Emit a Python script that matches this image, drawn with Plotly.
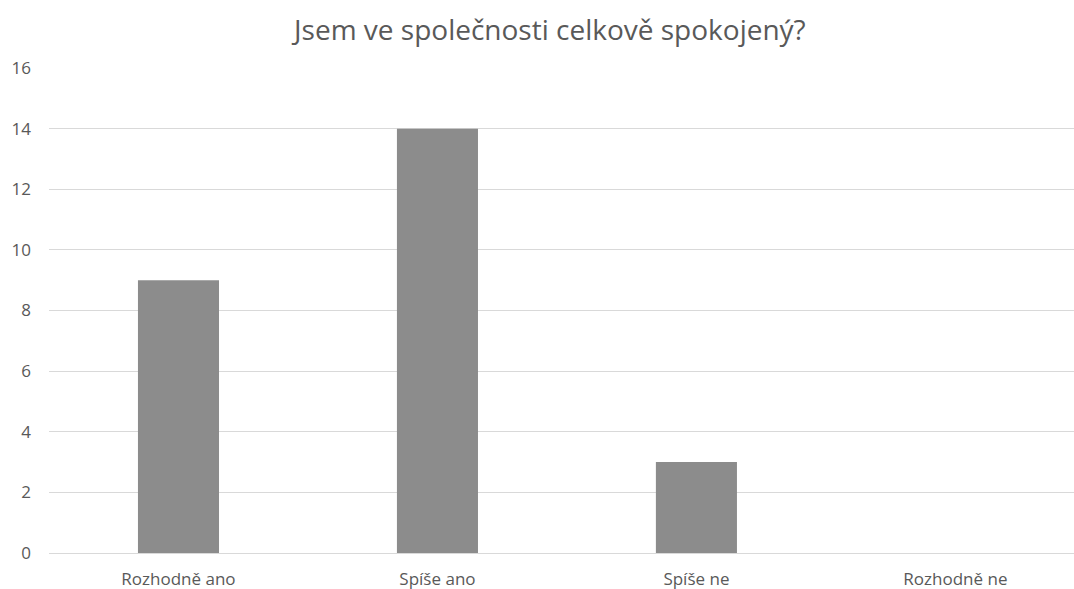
import plotly.graph_objects as go

categories = ["Rozhodně ano", "Spíše ano", "Spíše ne", "Rozhodně ne"]
counts = [9, 14, 3, 0]
y_ticks = [0, 2, 4, 6, 8, 10, 12, 14, 16]

text_color = "#595959"
font_family = "Open Sans, Noto Sans, sans-serif"

fig = go.Figure(
    go.Bar(
        x=categories,
        y=counts,
        width=0.313,
        marker=dict(color="#8c8c8c", line=dict(width=0)),
    )
)

fig.update_layout(
    width=1074,
    height=589,
    paper_bgcolor="white",
    plot_bgcolor="white",
    margin=dict(l=49, r=0, t=68, b=36),
    showlegend=False,
    title=dict(
        text="Jsem ve společnosti celkově spokojený?",
        x=0.512,
        xanchor="center",
        y=0.948,
        yanchor="middle",
        font=dict(family=font_family, size=28, color=text_color),
    ),
    font=dict(family=font_family, size=17, color=text_color),
)

fig.update_xaxes(
    range=[-0.5, 3.458],
    showgrid=False,
    showline=False,
    zeroline=False,
    ticks="",
    ticklabelstandoff=14,
    tickfont=dict(size=17, color=text_color),
)

fig.update_yaxes(
    range=[0, 16],
    tickvals=y_ticks,
    ticktext=[str(v) for v in y_ticks],
    showgrid=True,
    gridcolor="#d9d9d9",
    gridwidth=1,
    zeroline=True,
    zerolinecolor="#d9d9d9",
    zerolinewidth=1,
    showline=False,
    ticks="",
    ticklabelstandoff=17,
    tickfont=dict(size=17, color=text_color),
)

fig.write_html("out.html")
